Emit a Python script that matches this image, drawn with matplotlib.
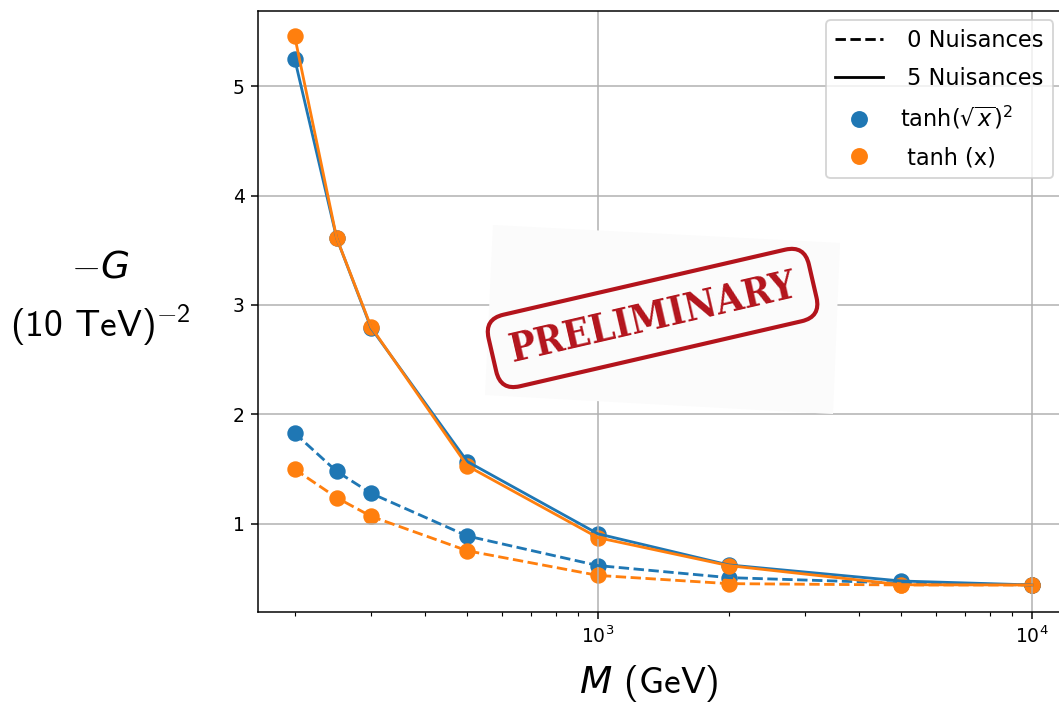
import matplotlib
matplotlib.use("Agg")
import matplotlib.pyplot as plt
from matplotlib.lines import Line2D
from matplotlib.patches import Polygon

# masses (GeV) and fitted -G values
M = [200, 250, 300, 500, 1000, 2000, 5000, 10000]
sqrt_tanh_0 = [1.83, 1.48, 1.28, 0.89, 0.62, 0.51, 0.46, 0.443]
tanh_0 = [1.50, 1.24, 1.07, 0.755, 0.53, 0.455, 0.443, 0.443]
sqrt_tanh_5 = [5.25, 3.61, 2.79, 1.57, 0.91, 0.626, 0.479, 0.443]
tanh_5 = [5.457, 3.61, 2.80, 1.53, 0.875, 0.62, 0.445, 0.443]

blue = '#1f77b4'
orange = '#ff7f0e'

plt.rcParams['mathtext.fontset'] = 'custom'
plt.rcParams['mathtext.rm'] = 'cmss10'
plt.rcParams['mathtext.sf'] = 'cmss10'
plt.rcParams['mathtext.it'] = 'DejaVu Sans:italic'

fig = plt.figure(figsize=(1059 / 135, 704 / 135), dpi=135)
ax = fig.add_axes([258 / 1059, 1 - 612 / 704, (1080 - 258) / 1059, (612 - 10.7) / 704])

# dashed: 0 nuisances, solid: 5 nuisances
ax.plot(M, sqrt_tanh_0, '--', color=blue)
ax.scatter(M, sqrt_tanh_0, color=blue, s=60)
ax.plot(M, tanh_0, '--', color=orange)
ax.scatter(M, tanh_0, color=orange, s=60)
ax.plot(M, sqrt_tanh_5, '-', color=blue)
ax.scatter(M, sqrt_tanh_5, color=blue, s=60)
ax.plot(M, tanh_5, '-', color=orange)
ax.scatter(M, tanh_5, color=orange, s=60)

ax.set_xscale('log')
ax.set_xlim(10 ** 2.2166, 10 ** (4 + 48 / 434))
ax.set_ylim(0.196, 5.688)
ax.grid(True)

ax.set_xlabel('$M$ (GeV)', fontsize=20, family='cmss10')
ax.xaxis.set_label_coords(391 / 822, -0.085)
ax.set_ylabel('$-G$\n$(10\\ \\mathrm{TeV})^{-2}$', fontsize=20, rotation=0,
              ha='center', va='center', linespacing=1.5)
ax.yaxis.set_label_coords(-158 / 822, 0.52)

handles = [Line2D([], [], color='k', ls='--'),
           Line2D([], [], color='k', ls='-'),
           Line2D([], [], color=blue, marker='o', ls='', markersize=8),
           Line2D([], [], color=orange, marker='o', ls='', markersize=8)]
labels = [' 0 Nuisances', ' 5 Nuisances', 'tanh$(\\sqrt{x})^2$', ' tanh (x)']
leg = ax.legend(handles, labels, loc='upper right', fontsize=12, handlelength=2.1,
                handletextpad=0.8, labelspacing=0.65,
                bbox_to_anchor=(1053 / 1059, 1 - 20 / 704),
                bbox_transform=fig.transFigure, borderaxespad=0.0)
for t in leg.get_texts():
    t.set_math_fontfamily('dejavusans')

# "PRELIMINARY" stamp pasted over the plot
ax.add_patch(Polygon([(0.2859, 0.6436), (0.7080, 0.6137), (0.6995, 0.3293), (0.2762, 0.3609)],
                     closed=True, transform=ax.transAxes, fc='#fbfbfb', ec='none', zorder=1.8))
ax.text(0.480, 0.489, 'PRELIMINARY', transform=ax.transAxes, rotation=13,
        rotation_mode='anchor', ha='center', va='center', fontsize=21,
        fontweight='bold', family='DejaVu Serif', fontstretch='condensed',
        color='#b3141c', zorder=1.9,
        bbox=dict(boxstyle='round,pad=0.45,rounding_size=0.5', fc='none', ec='#b3141c', lw=2.2))

fig.savefig('out.png', dpi=135)
